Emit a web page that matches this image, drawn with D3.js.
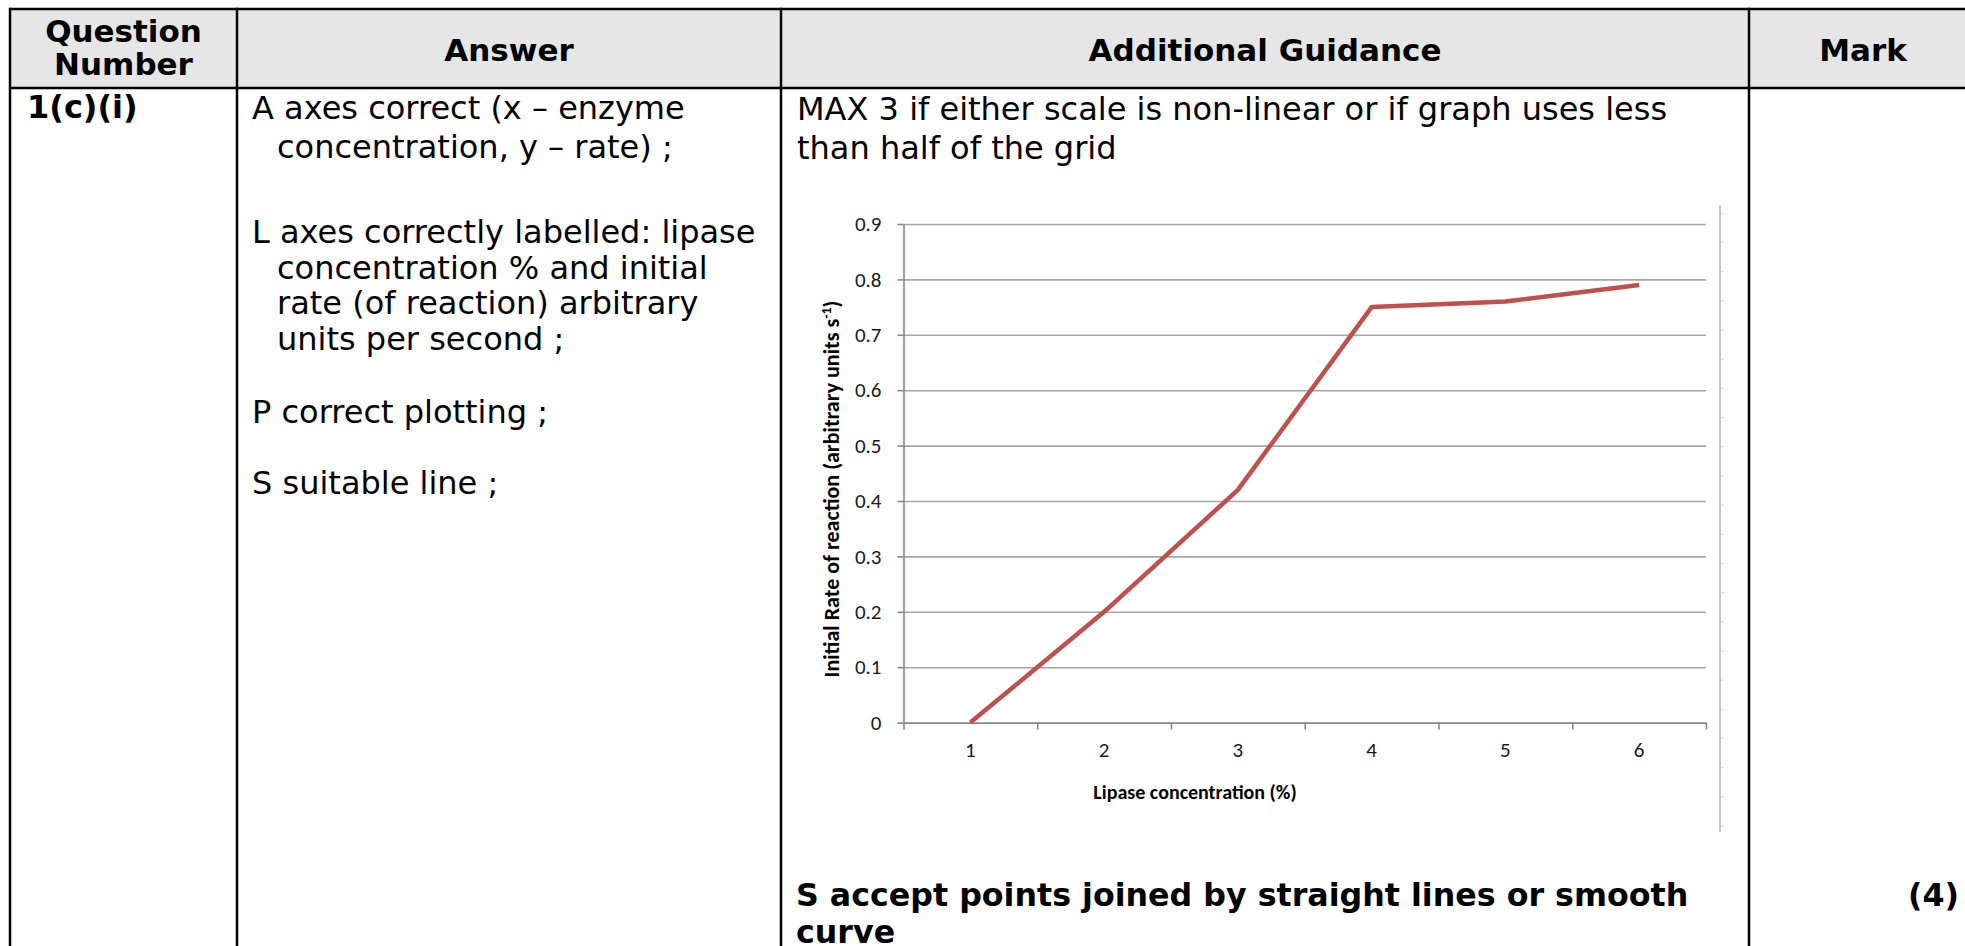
<!DOCTYPE html>
<html lang="en">
	<head>
		<meta charset="utf-8">
		<title>Mark scheme 1(c)(i)</title>
		<script type="text/javascript" src="https://cdn.jsdelivr.net/npm/d3@7"></script>
		<style type="text/css">

			* {
				margin: 0;
				padding: 0;
			}

			body {
				background-color: white;
				overflow: hidden;
			}

			svg {
				display: block;
			}

			.cell-text {
				font-family: Verdana, "DejaVu Sans", sans-serif;
				font-size: 32px;
				fill: #000;
			}

			.bold {
				font-weight: bold;
			}

			.rule {
				stroke: #000;
				stroke-width: 2.5;
			}

			.grid line {
				stroke: #a6a6a6;
				stroke-width: 1.6;
			}

			.axis path,
			.axis line {
				stroke: #868686;
				stroke-width: 1.6;
			}

			.axis text {
				font-family: Calibri, Carlito, "Open Sans", sans-serif;
				font-size: 21px;
				fill: #1a1a1a;
			}

			.axis-title {
				font-family: Calibri, Carlito, "Open Sans", sans-serif;
				font-weight: bold;
				fill: #000;
			}

			.series {
				fill: none;
				stroke: #c0504d;
				stroke-width: 4.5;
				stroke-linejoin: round;
			}

		</style>
	</head>
	<body>

		<div id="page"></div>

		<script type="text/javascript">

			//page size
			var w = 1965;
			var h = 946;

			//chart data
			var lipaseConc = ["1", "2", "3", "4", "5", "6"];
			var initialRate = [0, 0.2, 0.42, 0.75, 0.76, 0.79];
			var yTicks = [0, 0.1, 0.2, 0.3, 0.4, 0.5, 0.6, 0.7, 0.8, 0.9];

			//table text
			var headers = [["Question", "Number"], ["Answer"], ["Additional Guidance"], ["Mark"]];
			var questionNumber = "1(c)(i)";
			var answerParas = [
				["A axes correct (x \u2013 enzyme", "concentration, y \u2013 rate) ;"],
				["L axes correctly labelled: lipase", "concentration % and initial", "rate (of reaction) arbitrary", "units per second ;"],
				["P correct plotting ;"],
				["S suitable line ;"]
			];
			var guidanceLines = ["MAX 3 if either scale is non-linear or if graph uses less", "than half of the grid"];
			var footerLines = ["S accept points joined by straight lines or smooth", "curve"];
			var markText = "(4)";

			//table layout
			var colX = [10, 237, 781, 1749, 1977];
			var topY = 9;
			var headY = 88;
			var lineH = 39;

			var svg = d3.select("#page")
				.append("svg")
				.attr("width", w)
				.attr("height", h);

			//header background
			svg.append("rect")
				.attr("x", colX[0])
				.attr("y", topY)
				.attr("width", colX[4] - colX[0])
				.attr("height", headY - topY)
				.attr("fill", "#e6e6e6");

			//header labels
			headers.forEach(function(lines, i) {
				var cx = (colX[i] + colX[i + 1]) / 2;
				var t = svg.append("text")
					.attr("class", "cell-text bold")
					.attr("text-anchor", "middle")
					.style("font-size", "31px");
				lines.forEach(function(s, j) {
					t.append("tspan")
						.attr("x", cx)
						.attr("y", lines.length == 1 ? 61 : 42 + j * 33)
						.text(s);
				});
			});

			//question number
			svg.append("text")
				.attr("class", "cell-text bold")
				.attr("x", 27)
				.attr("y", 118)
				.text(questionNumber);

			//answer column, hanging indent after the first line
			var answerTops = [119, 243, 423, 494];
			answerParas.forEach(function(lines, i) {
				lines.forEach(function(s, j) {
					svg.append("text")
						.attr("class", "cell-text")
						.attr("x", j == 0 ? 252 : 277)
						.attr("y", answerTops[i] + j * (i == 1 ? 35.5 : lineH))
						.text(s);
				});
			});

			//guidance column
			guidanceLines.forEach(function(s, j) {
				svg.append("text")
					.attr("class", "cell-text")
					.attr("x", 797)
					.attr("y", 120 + j * lineH)
					.text(s);
			});

			footerLines.forEach(function(s, j) {
				svg.append("text")
					.attr("class", "cell-text bold")
					.attr("x", 796)
					.attr("y", 906 + j * 37)
					.style("font-size", "31.7px")
					.text(s);
			});

			svg.append("text")
				.attr("class", "cell-text bold")
				.attr("x", 1959)
				.attr("y", 906)
				.attr("text-anchor", "end")
				.style("font-size", "31.7px")
				.text(markText);

			/** Chart **/

			var plot = {left: 903.5, right: 1706, top: 224, bottom: 722.6};

			var x = d3.scaleBand()
				.domain(lipaseConc)
				.range([plot.left, plot.right]);

			var y = d3.scaleLinear()
				.domain([0, 0.9])
				.range([plot.bottom, plot.top]);

			var chart = svg.append("g");

			//horizontal gridlines
			chart.append("g")
				.attr("class", "grid")
				.attr("transform", "translate(" + plot.left + ",0)")
				.call(d3.axisLeft(y)
					.tickValues(yTicks.slice(1))
					.tickSize(-(plot.right - plot.left))
					.tickFormat(""))
				.call(function(g) { g.select(".domain").remove(); });

			//y axis
			chart.append("g")
				.attr("class", "axis")
				.attr("transform", "translate(" + plot.left + ",0)")
				.call(d3.axisLeft(y)
					.tickValues(yTicks)
					.tickSize(6)
					.tickSizeOuter(0)
					.tickPadding(16)
					.tickFormat(function(d) { return d == 0 ? "0" : d3.format(".1f")(d); }));

			//x axis: ticks on the band edges, labels in the band centres
			var edges = lipaseConc.map(function(c) { return x(c); }).concat([plot.right]);
			var xEdge = d3.scaleLinear().domain([plot.left, plot.right]).range([plot.left, plot.right]);

			chart.append("g")
				.attr("class", "axis")
				.attr("transform", "translate(0," + plot.bottom + ")")
				.call(d3.axisBottom(xEdge)
					.tickValues(edges)
					.tickSize(7)
					.tickSizeOuter(0)
					.tickFormat(""));

			chart.append("g")
				.attr("class", "axis")
				.attr("transform", "translate(0," + plot.bottom + ")")
				.call(d3.axisBottom(x)
					.tickSize(0)
					.tickPadding(19))
				.call(function(g) { g.select(".domain").remove(); });

			//the series line
			var line = d3.line()
				.x(function(d, i) { return x(lipaseConc[i]) + x.bandwidth() / 2; })
				.y(function(d) { return y(d); });

			chart.append("path")
				.datum(initialRate)
				.attr("class", "series")
				.attr("d", line);

			//axis titles
			var yTitle = chart.append("text")
				.attr("class", "axis-title")
				.attr("text-anchor", "middle")
				.style("font-size", "22px")
				.attr("transform", "translate(839," + 489 + ") rotate(-90)");
			yTitle.append("tspan").text("Initial Rate of reaction (arbitrary units s");
			yTitle.append("tspan")
				.attr("dy", -8)
				.style("font-size", "14px")
				.text("-1");
			yTitle.append("tspan")
				.attr("dy", 8)
				.text(")");

			chart.append("text")
				.attr("class", "axis-title")
				.attr("text-anchor", "middle")
				.style("font-size", "20px")
				.attr("x", 1195)
				.attr("y", 799)
				.text("Lipase concentration (%)");

			//right edge of the chart frame with its small notches
			var frame = d3.scaleLinear().domain([0, 21]).range([213.3, 826]);
			chart.append("line")
				.attr("x1", 1720).attr("x2", 1720)
				.attr("y1", 205).attr("y2", 832)
				.attr("stroke", "#c4c4c4")
				.attr("stroke-width", 2);
			chart.append("g")
				.selectAll("line")
				.data(d3.range(22))
				.enter().append("line")
				.attr("x1", 1721).attr("x2", 1724)
				.attr("y1", function(d) { return frame(d); })
				.attr("y2", function(d) { return frame(d); })
				.attr("stroke", "#d4d4dc")
				.attr("stroke-width", 1);

			//table rules drawn last so they sit on top
			var rules = svg.append("g");
			rules.append("line")
				.attr("class", "rule")
				.attr("x1", colX[0]).attr("x2", w)
				.attr("y1", topY).attr("y2", topY);
			rules.append("line")
				.attr("class", "rule")
				.attr("x1", colX[0]).attr("x2", w)
				.attr("y1", headY).attr("y2", headY);
			rules.selectAll(".col")
				.data(colX.slice(0, 4))
				.enter().append("line")
				.attr("class", "rule col")
				.attr("x1", function(d) { return d; })
				.attr("x2", function(d) { return d; })
				.attr("y1", topY - 1.25)
				.attr("y2", h);

		</script>
	</body>
</html>
